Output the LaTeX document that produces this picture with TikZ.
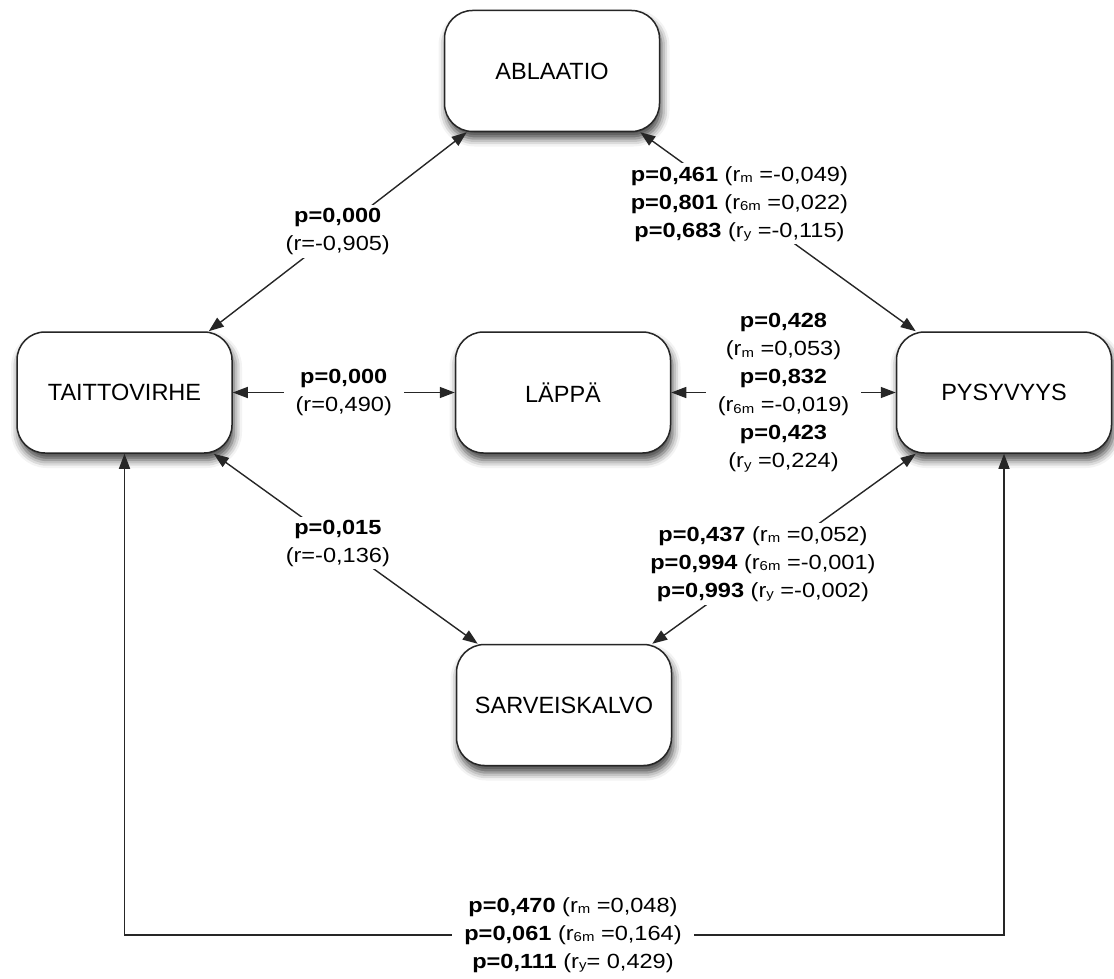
\documentclass[tikz,border=0pt]{standalone}
\usepackage{fontspec}
\setmainfont{Liberation Sans}
\newfontfamily\lblfont{Liberation Sans}[FakeStretch=1.15]
\usetikzlibrary{arrows.meta,shadows.blur}
\newcommand\sbx[1]{\raisebox{-1.5pt}{\fontsize{13}{13}\selectfont #1}}
\begin{document}
\begin{tikzpicture}[x=1pt,y=-1pt,
  box/.style={draw=black!85, line width=1.5pt, rounded corners=28pt, fill=white,
    minimum width=215pt, minimum height=121pt, inner sep=0pt,
    font=\fontsize{23.5}{28}\selectfont,
    blur shadow={shadow xshift=2pt, shadow yshift=-7pt, shadow blur radius=8pt, shadow opacity=75}},
  conn/.style={line width=1.4pt, draw=black!85,
    {Triangle[length=15pt,width=11pt]}-{Triangle[length=15pt,width=11pt]}},
  lbl/.style={fill=white, inner xsep=12pt, inner ysep=3pt, align=center,
    font=\lblfont\fontsize{20.5}{28}\selectfont, text=black}
]
\useasboundingbox (0,0) rectangle (1114,979);

\node[box] (A) at (552,71) {ABLAATIO};
\node[box] (T) at (124.5,392.5) {TAITTOVIRHE};
\node[box] (L) at (563,392.5) {LÄPPÄ};
\node[box] (P) at (1004,392.5) {PYSYVYYS};
\node[box] (S) at (564,705) {SARVEISKALVO};

\draw[conn] ([xshift=-24pt]T.north east) -- node[lbl]{\textbf{p=0,000}\\(r=-0,905)} ([xshift=23pt]A.south west);
\draw[conn] ([xshift=-20pt]A.south east) -- node[lbl,pos=0.36]{\textbf{p=0,461} (r\sbx{m} =-0,049)\\\textbf{p=0,801} (r\sbx{6m} =0,022)\\\textbf{p=0,683} (r\sbx{y} =-0,115)} ([xshift=20pt]P.north west);
\draw[conn] (T.east) -- node[lbl]{\textbf{p=0,000}\\(r=0,490)} (L.west);
\draw[conn] (L.east) -- node[lbl]{\textbf{p=0,428}\\(r\sbx{m} =0,053)\\\textbf{p=0,832}\\(r\sbx{6m} =-0,019)\\\textbf{p=0,423}\\(r\sbx{y} =0,224)} (P.west);
\draw[conn] ([xshift=-19pt]T.south east) -- node[lbl,pos=0.47]{\textbf{p=0,015}\\(r=-0,136)} ([xshift=22pt]S.north west);
\draw[conn] ([xshift=20pt]P.south west) -- node[lbl,pos=0.58]{\textbf{p=0,437} (r\sbx{m} =0,052)\\\textbf{p=0,994} (r\sbx{6m} =-0,001)\\\textbf{p=0,993} (r\sbx{y} =-0,002)} ([xshift=-20pt]S.north east);
\coordinate (bot) at (573,935);
\draw[conn] (T.south) |- (bot) node[lbl]{\textbf{p=0,470} (r\sbx{m} =0,048)\\\textbf{p=0,061} (r\sbx{6m} =0,164)\\\textbf{p=0,111} (r\sbx{y}= 0,429)} -| (P.south);
\end{tikzpicture}
\end{document}
